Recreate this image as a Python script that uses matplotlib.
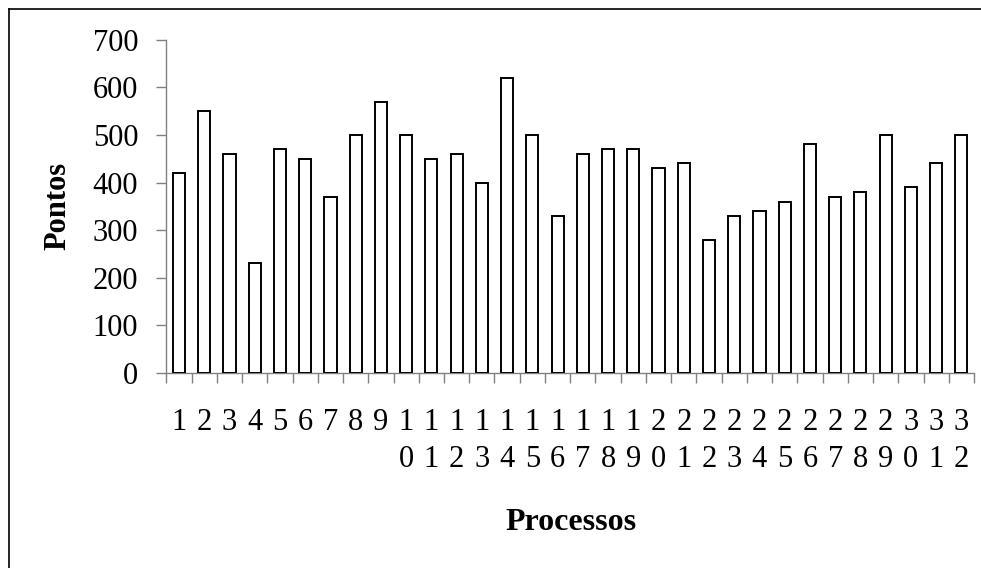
import matplotlib
matplotlib.use("Agg")
import matplotlib.pyplot as plt
from matplotlib.lines import Line2D
import numpy as np

processos = [str(i) for i in range(1, 33)]
pontos = [420, 550, 460, 230, 470, 450, 370, 500, 570, 500,
          450, 460, 400, 620, 500, 330, 460, 470, 470, 430,
          440, 280, 330, 340, 360, 480, 370, 380, 500, 390,
          440, 500]
yticks = [0, 100, 200, 300, 400, 500, 600, 700]

plt.rcParams['font.family'] = ['Liberation Serif', 'DejaVu Serif']

W, H = 981, 568
fig = plt.figure(figsize=(W / 100, H / 100), dpi=100)
left, right, top, bottom = 166.4, 974.0, 39.7, 373.0
ax = fig.add_axes([left / W, 1 - bottom / H, (right - left) / W, (bottom - top) / H])

x = np.arange(len(processos))
ax.bar(x, pontos, width=0.48, color='white', edgecolor='black', linewidth=1.4, zorder=3)

ax.set_xlim(-0.5, len(processos) - 0.5)
ax.set_ylim(0, 700)

gray = '#808080'
for s in ['top', 'right']:
    ax.spines[s].set_visible(False)
for s in ['left', 'bottom']:
    ax.spines[s].set_color(gray)
    ax.spines[s].set_linewidth(1.0)

ax.set_yticks(yticks)
ax.set_yticklabels([str(v) for v in yticks])
ax.tick_params(axis='y', direction='out', length=7.2, width=1.0, color=gray,
               pad=13, labelsize=22)

labels = ['\n'.join(list(p)) for p in processos]
ax.set_xticks(x)
ax.set_xticklabels(labels, linespacing=1.38)
ax.tick_params(axis='x', which='major', length=0, pad=25, labelsize=22)
ax.set_xticks(np.arange(-0.5, len(processos)), minor=True)
ax.tick_params(axis='x', which='minor', direction='out', length=7.2, width=1.0, color=gray)

fig.text(58 / W, 1 - 206 / H, 'Pontos', rotation=90, fontsize=22, fontweight='bold',
         ha='center', va='center')
fig.text(571 / W, 1 - 522 / H, 'Processos', fontsize=23, fontweight='bold',
         ha='center', va='center')

fig.add_artist(Line2D([9 / W, 1], [1 - 9 / H, 1 - 9 / H], color='black', linewidth=1.2,
                      transform=fig.transFigure))
fig.add_artist(Line2D([9 / W, 9 / W], [0, 1 - 9 / H], color='black', linewidth=1.2,
                      transform=fig.transFigure))

fig.savefig('out.png', dpi=100, facecolor='white')
